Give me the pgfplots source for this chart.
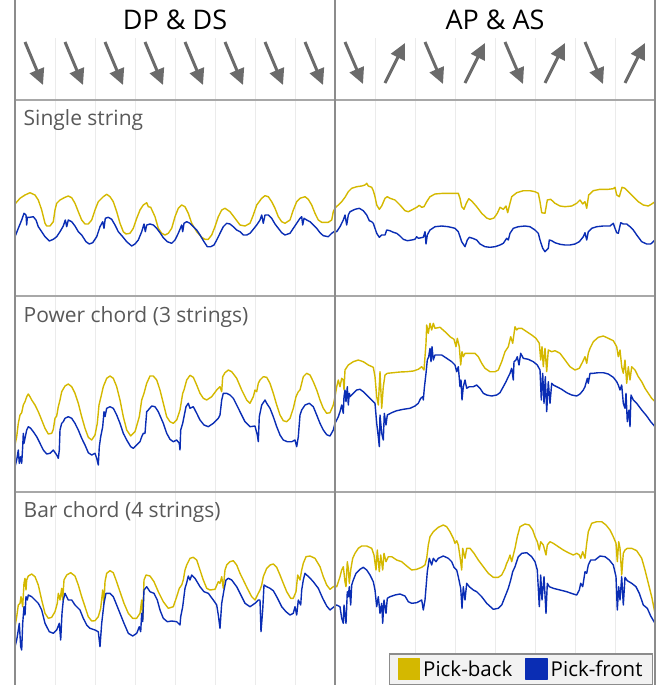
\documentclass[border=0pt]{standalone}
\usepackage{fontspec}
\setmainfont{Open Sans}
\usepackage{pgfplots}
\pgfplotsset{compat=1.18}
\usetikzlibrary{arrows.meta}

\definecolor{pickback}{HTML}{D4B800}
\definecolor{pickfront}{HTML}{0A2DB4}
\definecolor{arrowgray}{HTML}{6B6B6B}
\definecolor{framegray}{HTML}{8C8C8C}
\definecolor{sepgray}{HTML}{A8A8A8}
\definecolor{gridgray}{HTML}{EBEBEB}
\definecolor{labelgray}{HTML}{595959}
\definecolor{legendfill}{HTML}{F2F2F2}

\pgfplotsset{
  strip/.style={scale only axis, width=640pt, xmin=0, xmax=640, anchor=north west,
    axis line style={draw=none}, tick style={draw=none},
    xtick={40,80,120,160,200,240,280,360,400,440,480,520,560,600},
    xticklabels={}, ytick=\empty, xmajorgrids,
    major grid style={draw=gridgray, line width=0.9pt}},
  trace/.style={line width=1.4pt, line join=round, mark=none},
}
\tikzset{panellabel/.style={anchor=west, inner sep=0pt, text=labelgray,
    font=\fontsize{21}{25}\selectfont}}

\begin{document}
\begin{tikzpicture}
\path[use as bounding box] (0pt,0pt) rectangle (656pt,-685pt);

% header: stroke directions
\begin{axis}[strip, at={(15pt,-38pt)}, height=62pt, ymin=0, ymax=62, clip=false]
\addplot[arrowgray, line width=3pt, quiver={u=\thisrow{u},v=\thisrow{v}},
  -{Triangle[length=16pt,width=15pt]}] table[row sep=\\] {
x y u v\\
10 58 18 -43\\ 50 58 18 -43\\ 90 58 18 -43\\ 130 58 18 -43\\
170 58 18 -43\\ 210 58 18 -43\\ 250 58 18 -43\\ 290 58 18 -43\\
330 58 18 -42\\ 370 17 20 40\\ 410 58 18 -42\\ 450 17 20 40\\
490 58 18 -42\\ 530 17 20 40\\ 570 58 18 -42\\ 610 17 20 40\\
};
\node[font=\fontsize{27}{32}\selectfont] at (axis cs:160,80) {DP \& DS};
\node[font=\fontsize{27}{32}\selectfont] at (axis cs:480,80) {AP \& AS};
\end{axis}

% single string
\begin{axis}[strip, at={(15pt,-100pt)}, height=196pt, ymin=0, ymax=196]
\addplot[trace, pickback] coordinates {(0,92)(5,97.7)(10,101)(15,103.3)(20,101)(23.3,96)(26.7,86)(30,72.7)(31.7,70)(35,70)(38.3,74.3)(40,86)(41.7,92.7)(45,96)(50,98.7)(53.3,100)(56.7,98.3)(60,92.7)(63.3,84.3)(66.7,76)(70,72)(73.3,72)(76.7,76)(80,86)(83.3,94.3)(88.3,99.3)(91.7,101.7)(95,99.3)(98.3,94.3)(101.7,84.3)(105,72.7)(108.3,64.3)(111,62)(115,62.7)(118.3,67.7)(121.7,77.7)(125,86)(128.3,91)(131.7,93.3)(133.3,89.3)(135.7,88.7)(140,79.3)(143.3,67.7)(146.7,62.7)(150,61)(153.3,62.7)(156.7,67.7)(160,79.3)(163.3,87.7)(166.7,91)(170,89.3)(173.3,82.7)(176.7,72.7)(181.7,64.3)(186.7,58.7)(190,56.7)(193.3,56.7)(196.7,61)(200,69.3)(203.3,79.3)(206.7,86)(210,87.7)(215,84.3)(220,77.7)(225,71)(230,70)(235,72.7)(238.3,81)(241.7,91)(246.7,97.7)(250,100.3)(253.3,99.3)(256.7,94.3)(260,87.7)(263.3,79.3)(266.7,74.3)(270,72.7)(275,76)(278.3,86)(281.7,94.3)(285,97.7)(290,99.3)(293.3,96.7)(296.7,91)(300,82.7)(303.3,76)(306.7,73.7)(313.3,73.7)(316.7,76)(318.3,84.3)(320,88)
(323.3,91)(326.7,94.3)(330,98.7)(333.3,104.3)(336.7,107.7)(341.7,109.3)(346.7,110)(350,111)(351.7,112.7)(353.3,110)(356.7,108.7)(358.3,105.3)(360,99.3)(361.7,91)(364.3,86.7)(366.7,90)(370,97.7)(372.3,99.3)(375,97.7)(380,96)(385,91)(390,85.3)(393.3,84.3)(396.7,86)(401.7,88.7)(404.3,90.7)(406.7,88.7)(409,89.3)(411.7,94.3)(415,99.3)(420,102)(428.3,102.7)(436.7,102.7)(443.3,102.7)(445,97.7)(446.7,89.3)(449,86.7)(451,92)(453.7,97.3)(456.7,95)(461.7,89.3)(466.7,82.7)(471.7,78)(475,76.7)(479,78)(482.3,82.7)(485,88.7)(488.3,86.7)(491,90)(492.7,83.3)(494.3,90)(496.7,99.3)(501.7,103.3)(508.3,105.3)(515,105.3)(520,104.3)(523.3,102.7)(525,94.3)(526.7,83.3)(530,82.7)(532.3,96)(535.7,96.7)(540,92.7)(545,90)(550,89.3)(556.7,90)(561.7,92.7)(565,96)(567.7,92)(570,94.3)(571.7,87.7)(573.7,101)(578.3,105.3)(585,106.7)(593.3,106.7)(598.3,107.3)(600,108.7)(601.7,101)(604.3,99.3)(607,108.7)(610,107.7)(613.3,104.3)(618.3,99.3)(623.3,94.3)(628.3,91)(633.3,90)(636.7,92)(640,94.3)};
\addplot[trace, pickfront] coordinates {(0,59.3)(3.3,67.7)(6.7,76)(9,82.7)(11,81)(11.7,71)(12.3,78.7)(15,78.7)(18.3,79.3)(21,76)(23.3,69.3)(26.7,64.3)(30,59.3)(34.3,55)(38.3,56.7)(41.7,59.3)(45,64.3)(48.3,70)(50.3,76)(51.7,69.3)(53.3,76)(56.7,74.3)(60,70)(63.3,64.3)(66.7,61)(71,54.3)(74.3,52)(77.7,53.3)(81.7,59.3)(85,69.3)(87.7,74.3)(89,67.7)(90.3,77.7)(93.3,78.7)(96.7,76.7)(100,71)(103.3,64.3)(107.7,59.3)(111.7,54.3)(116.7,50)(120,52)(123.3,56)(126.7,64.3)(129,72)(130.3,64.3)(131.7,71)(135,72)(138.3,71)(141.7,67.7)(145,63.3)(148.3,58.3)(152.3,54.3)(156.7,52.7)(160,56)(163.3,62.7)(166.7,71)(167.7,64.3)(169,72.7)(171.7,74.3)(175,72.7)(178.3,69.3)(181.7,66)(185,61)(189,54.3)(192.3,49.3)(195.7,49.3)(199,51)(201.7,56)(205,62.7)(208.3,69.3)(211.7,72.7)(215,72)(218.3,69.3)(221.7,66)(225,64.3)(228.3,61)(231.7,61)(235,62.7)(238.3,66.7)(241.7,71)(245,76)(246.7,81)(248.3,72.7)(250,81)(253.3,81)(256.7,77.7)(260,72)(263.3,67.7)(266.7,63.3)(270,61)(275,62.7)(278.3,67.7)(281.7,72.7)(285,77.7)(286.7,79.3)(287.7,71)(289,77.7)(291.7,76)(295,74.3)(298.3,71)(301.7,67.7)(305,63.3)(308.3,60.3)(313.3,59.3)(316.7,62.7)(320,65)
(321.7,64.3)(325,69.3)(328.3,76)(330,81)(331.7,71)(333.3,81)(335,84.3)(340,86.7)(344.3,87.7)(348.3,85.3)(351.7,81)(354.3,75.3)(356.7,74.3)(358.3,72.7)(360,67.7)(361.7,62.7)(364.3,58.7)(366.7,61)(370,61)(371.7,66)(375,65.3)(378.3,63.7)(381.7,62.7)(385,60)(388.3,56.7)(392.3,55.3)(396.7,56)(400,56.7)(401.7,59.3)(403.3,57.7)(408.3,58.7)(410,64.3)(411,52)(412.3,61)(415,66)(420,69.3)(426.7,70)(433.3,69.3)(440,67.7)(443.3,64.3)(446.7,54.3)(450,49.3)(452.3,56)(454.3,58.7)(457.7,57.7)(461.7,56)(465,52)(470,49.3)(475,48.7)(480,49.3)(485,51)(488.3,52.7)(491.7,57.7)(493.3,56)(495,62.7)(498.3,67.7)(503.3,69.3)(510,70)(515,69.3)(520,66)(523.3,62.7)(525,56)(527.7,47.7)(530,44.3)(533.3,47.7)(534.3,56)(536.7,55.3)(540,53.3)(545,51.7)(550,51)(555,51)(560,52)(564.3,54.3)(568.3,59.3)(570,63.3)(571.7,56)(573.3,64.3)(576.7,67.7)(581.7,69.3)(588.3,70)(595,70)(598.3,72.7)(600,67.7)(601.7,63.3)(603.3,62.7)(605.7,73.3)(608.3,72)(611.7,72)(615,69.3)(618.3,66)(621.7,61)(626.7,54.3)(631.7,52)(635.7,52)(640,56)};
\node[panellabel] at (axis cs:8.5,176) {Single string};
\end{axis}

% power chord
\begin{axis}[strip, at={(15pt,-296pt)}, height=196pt, ymin=0, ymax=196]
\addplot[trace, pickback] coordinates {(0,47)(1.7,55.3)(3.3,68.7)(5,77)(6.7,79.3)(8.3,87)(10,90.3)(11.7,95.3)(13.3,98)(15,95.3)(16.7,92)(20,87)(23.3,80.3)(26.7,72)(30,63.7)(33.3,58)(36.7,58.7)(38.3,62.7)(40,73.7)(41.7,76)(43.3,85.3)(45,92)(46.7,100.3)(50,106)(53.3,108)(56.7,105.3)(60,98.7)(63.3,88.7)(66.7,75.3)(70,63.7)(73.3,54.7)(76.7,52)(80,57)(82.3,68.7)(84,87)(86,95.3)(88.3,105.3)(91.7,113.7)(95,116)(98.3,113.7)(101.7,105.3)(105,92)(108.3,75.3)(111.7,62)(115.7,56)(120,60.3)(124.3,75.3)(126.7,92)(129,98.7)(131.7,108.7)(135,116)(138.3,116)(141.7,112)(145,102)(148.3,88.7)(151.7,75.3)(155,70.3)(158.3,68.7)(161.7,72)(165,82)(167.7,98.7)(169,102)(171.7,112)(175,116.7)(178.3,114.7)(181.7,107)(185,98.7)(188.3,93.7)(191.7,92)(196.7,95.3)(201.7,102)(205,105.3)(206.7,100.3)(207.7,115.3)(210,119.3)(213.3,122)(216.7,120.3)(221.7,113.7)(226.7,102)(231.7,92)(235,88.7)(238.3,95.3)(240,102)(241.7,100.3)(243.3,108.7)(245,112)(248.3,115.3)(251.7,114.7)(255,108.7)(258.3,98.7)(261.7,87)(265,77)(268.3,71.3)(271.7,70.3)(275,73.7)(278.3,83.7)(281,95.3)(283.3,100.3)(285,102)(286.7,108.7)(288.3,115.3)(291.7,118.7)(295,117)(298.3,110.3)(301.7,102)(305,92)(308.3,83.7)(311.7,78.7)(315,79.3)(318.3,87)(320,95.3)
(321.7,105.3)(323.3,112)(325,105.3)(326.7,113.7)(328.3,112)(329,102)(330,122)(333.3,127)(338.3,130.3)(343.3,132)(348.3,130.3)(353.3,127)(358.3,124.7)(360,115.3)(361.7,95.3)(363.3,87)(365,120.3)(366.7,83.7)(368.3,105.3)(370,117)(372.3,118.7)(378.3,119.3)(385,120)(391.7,120.3)(398.3,121)(403.3,122.7)(406.7,125.3)(409,122)(410,135.3)(411,148.7)(411.7,167)(413.3,158.7)(415,168.7)(416.7,162)(418.3,168.7)(420,163.7)(425,164.7)(430,160.3)(435,155.3)(439,152.7)(441,145.3)(442.3,153.7)(444.3,145.3)(445.7,127)(447,140.3)(448.3,135.3)(450,138.7)(455,138.7)(460,138.7)(463.3,135.3)(466.7,128.7)(470,123.7)(475,120.3)(480,120.3)(483.3,122)(486.7,130.3)(490,140.3)(493.3,145.3)(495.7,155.3)(497.7,148.7)(500,165.3)(501.7,162)(503.3,163.7)(506.7,163.7)(511.7,160.3)(516.7,157)(521,153.7)(524.3,148.7)(525.7,132)(527,145.3)(528.3,125.3)(530,143.7)(531.7,120.3)(533.3,142)(536.7,140.3)(540,141.3)(545,138.7)(550,132)(555,125.3)(560,122)(564.3,123.7)(567.7,130.3)(570,135.3)(571.7,128.7)(573.3,138.7)(575,143.7)(578.3,150.3)(583.3,154.7)(588.3,156)(593.3,153.7)(598.3,151.3)(601.7,145.3)(603.3,135.3)(605,142)(606.7,125.3)(608.3,118.7)(610,132)(611.7,108.7)(613.3,125.3)(615,112)(616.7,125.3)(620,122)(623.3,115.3)(626.7,110.3)(630,103.7)(633.3,98.7)(636.7,93.7)(640,90.3)};
\addplot[trace, pickfront] coordinates {(0,25.3)(1.7,32)(3.3,42)(4.3,28.7)(5.7,35.3)(6.7,28.7)(7.7,45.3)(8.3,58.7)(9,48.7)(10,53.7)(11.7,62)(13.3,65.3)(15.7,63.7)(18.3,60.3)(21.7,55.3)(25,48.7)(28.3,42)(31.7,38)(35,38.7)(38.3,42)(41.7,37)(43.3,33.7)(44.3,42)(45,62)(46.7,68.7)(48.3,70.3)(50,73.7)(53.3,75.3)(56.7,73.7)(60,68.7)(63.3,62)(66.7,53.7)(70,47)(73.3,39.3)(76.7,37)(80,38.7)(81.7,33.7)(83.3,27)(84.3,45.3)(85.7,55.3)(87.7,65.3)(89,80.3)(90,75.3)(91.7,83.7)(95,85.3)(98.3,83.7)(101.7,77)(105,68.7)(108.3,58.7)(111.7,52)(115.7,45.3)(118.3,43.7)(121.7,47)(125,50.3)(126.7,55.3)(128.3,58.7)(130,58.7)(131.7,80.3)(133.3,82)(136.7,86)(140,85.3)(143.3,80.3)(148.3,68.7)(151.7,58.7)(155,52.7)(158.3,50.3)(161.7,52)(164.3,48.7)(165,42)(165.7,62)(167.7,68.7)(169,75.3)(171,85.3)(173.3,88.7)(175,83.7)(178.3,85.3)(181.7,78.7)(185,72)(189,67)(193.3,65.3)(198.3,68.7)(203.3,73.7)(205,77)(206.7,92)(208.3,98.7)(211.7,98.7)(215,97)(218.3,93.7)(221.7,87)(225,80.3)(230,70.3)(235,65.3)(240,66)(242.3,57)(243.3,50.3)(244.3,75.3)(246.7,87)(250,92)(251.7,88.7)(255,83.7)(258.3,75.3)(261.7,65.3)(265,57)(268.3,52)(272.3,50.3)(276.7,50.3)(280,52)(281.7,45.3)(283.3,55.3)(285,77)(286.7,82)(290,87)(294.3,88.7)(298.3,85.3)(301.7,77)(305,68.7)(308.3,62)(311.7,57.3)(315,56)(318.3,62)(320,68.7)
(321.7,72)(323.3,75.3)(325,80.3)(326.7,87)(328.3,78.7)(329,95.3)(330,102)(331,90.3)(332.3,105.3)(333.3,87)(334.3,98.7)(335,95.3)(336.7,97)(338.3,98.7)(341.7,102)(345,102.7)(348.3,100.3)(353.3,95.3)(358.3,90.3)(360,88.7)(361.7,68.7)(363.3,55.3)(364.3,45.3)(365,77)(366.7,58.7)(368.3,52)(369.3,78.7)(371,67)(372.3,77)(376.7,79.3)(381.7,81.3)(388.3,82.7)(395,83.7)(400,86)(403.3,88.7)(405.7,93.7)(407.7,95.3)(408.3,92)(409.3,103.7)(411,118.7)(412.3,132)(413.7,135.3)(415,143.7)(416,130.3)(417,145.3)(418.3,132)(420,137)(423.3,137)(426.7,137)(431.7,133.7)(436.7,130.3)(440,127)(441.7,120.3)(443.3,125.3)(445,105.3)(446,112)(447,92)(448.3,105.3)(450,112)(451.7,103.7)(454.3,105.3)(458.3,105.3)(461.7,107)(465,103.7)(468.3,98.7)(471.7,97)(476.7,96)(481.7,97)(485,99.3)(488.3,105.3)(491,110.3)(493.3,115.3)(495,118.7)(496.7,123.7)(498.3,112)(499,130.3)(501,132)(502.3,135.3)(504,127)(505.7,138.7)(508.3,133.7)(513.3,132.7)(518.3,130.3)(522.3,127)(525,122)(526.3,92)(527.7,118.7)(529,88.7)(530.3,115.3)(531.7,80.3)(533.3,110.3)(535,88.7)(536.7,108.7)(538.3,107)(541.7,105.3)(546.7,102.7)(551.7,99.3)(556.7,97)(561.7,96)(565,98)(568.3,102)(570,105.3)(572.3,113.7)(573.3,108.7)(575,118.7)(578.3,118.7)(583.3,119.3)(588.3,119.3)(593.3,118)(598.3,114.7)(601.7,110.3)(603.3,107)(605,102)(606.7,107)(608.3,88.7)(610,83.7)(611,98.7)(612.3,70.3)(614,82)(615,65.3)(616,97)(618.3,92)(621.7,88.7)(626.7,82)(631.7,76)(635.7,70.3)(640,65.3)};
\node[panellabel] at (axis cs:8.5,175) {Power chord (3 strings)};
\end{axis}

% bar chord
\begin{axis}[strip, at={(15pt,-492pt)}, height=193pt, ymin=0, ymax=193,
  legend columns=2,
  legend style={at={(0.997,0)}, anchor=south east, draw=framegray, fill=legendfill,
    line width=1.2pt, font=\fontsize{20.5}{24}\selectfont, inner xsep=8pt, inner ysep=4pt,
    nodes={inner xsep=2pt, inner ysep=1pt},
    /tikz/every odd column/.append style={column sep=1pt},
    /tikz/every even column/.append style={column sep=11pt}},
  legend image code/.code={\fill[#1] (0pt,-10.5pt) rectangle (21pt,10.5pt);}]
\addplot[trace, pickback] coordinates {(0,58.3)(1.7,68.3)(3.3,80)(5,81.7)(6,88.3)(7.7,78.3)(9,101.7)(10,106.7)(11,95)(11.7,105)(13.3,109)(16.7,111)(20,108.3)(23.3,100)(26.7,85)(30,71.7)(33.3,66.7)(36.7,67.7)(40,73.3)(42.3,81.7)(43.3,91.7)(45,85)(46.7,96.7)(47.7,85)(49,105)(51.7,110)(55.7,112.3)(60,109)(63.3,100)(66.7,88.3)(70,78.3)(73.3,68.3)(76.7,64)(80,64.3)(83.3,68.3)(85.7,76.7)(87.7,95)(89,81.7)(90,103.3)(91.7,111.7)(95,114.3)(98.3,112.3)(101,105)(105,93.3)(109,81.7)(113.3,71.7)(117.7,66.7)(121.7,66.7)(125,71.7)(126.7,85)(127.7,65)(129,105)(131,110)(135,109)(139,103.3)(143.3,93.3)(148.3,83.3)(153.3,76.7)(158.3,78.3)(161.7,88.3)(164.3,96.7)(166.7,100)(168.3,105)(170,115)(171.7,120)(175,126.7)(178.3,127.7)(181.7,125)(185,115)(188.3,105)(191.7,96.7)(195,95)(200,95.7)(203.3,103.3)(205,101.7)(206.7,108.3)(208.3,96.7)(210,115)(211.7,120)(215,123.3)(218.3,124.3)(221.7,120)(225,111.7)(228.3,105)(232.3,96.7)(236.7,88.3)(240,85)(243.3,91.7)(245,95)(246.7,100)(248.3,108.3)(251.7,116.7)(255,120)(258.3,121)(261.7,117.7)(265,110)(268.3,101.7)(271.7,93.3)(275.7,86.7)(278.3,86.7)(281,93.3)(282.7,110)(285,105)(286.7,115)(288.3,121.7)(291,128.3)(295,129)(300,126.7)(305,118.3)(308.3,108.3)(311.7,100)(315,95.7)(318.3,98.3)(320,99)
(321.7,98.3)(325,108.3)(326.7,115)(328.3,118.3)(330,103.3)(331,98.3)(332.3,123.3)(333.3,116.7)(334.3,101.7)(335.7,115)(337.7,126.7)(340,131.7)(343.3,136.7)(346.7,139)(351.7,139)(356.7,136.7)(359,130)(361,115)(362.3,135)(364.3,113.3)(365.7,130)(367.7,115)(369,131.7)(371,123.3)(373.3,128.3)(376.7,128.3)(381.7,125)(386.7,123.3)(391.7,119)(396.7,115)(401.7,115.7)(406.7,117.7)(410,120)(411.7,126.7)(413.3,140)(415,148.3)(418.3,153.3)(423.3,157.7)(428.3,160)(431.7,158.3)(435,153.3)(438.3,146.7)(440,141.7)(441.7,144.3)(443.3,140)(445,128.3)(446.7,115)(447.7,136.7)(450,126.7)(451.7,136.7)(455,136.7)(459,131.7)(463.3,125)(468.3,118.3)(473.3,111.7)(478.3,107.7)(483.3,107.7)(486.7,110)(490,116.7)(491.7,121.7)(493.3,125)(495,130)(496.7,123.3)(498.3,130)(500,136.7)(502.3,148.3)(505,158.3)(510,161)(514.3,160)(517.7,155)(520,148.3)(522.3,143.3)(524.3,135)(525.7,143.3)(528.3,140)(531,130)(532.3,140)(535,143.3)(538.3,141.7)(543.3,138.3)(548.3,135)(553.3,132.3)(558.3,130)(561.7,131.7)(564.3,130)(565.7,126.7)(567.7,133.3)(570,126.7)(571.7,141.7)(573.3,153.3)(576.7,161.7)(581.7,163.3)(586.7,163.3)(591,160)(595,155)(598.3,148.3)(601,141.7)(602.3,123.3)(603.7,143.3)(605,136.7)(606.7,110)(608.3,131.7)(610,135)(612.3,136.7)(616.7,136.7)(621.7,134.3)(626.7,126.7)(630,115)(633.3,101.7)(636.7,88.3)(640,71.7)};
\addlegendentry{Pick-back}
\addplot[trace, pickfront] coordinates {(0,38.3)(1.7,45)(3.3,55)(4.3,61.7)(5.7,38.3)(6.7,35)(7.7,61.7)(9,78.3)(10,70)(11,88.3)(12.3,85)(13.3,90)(16.7,88.3)(20,85)(23.3,81.7)(26.7,75)(30,61.7)(34.3,53.3)(38.3,51.7)(41.7,55)(44.3,61.7)(45.7,45)(47,71.7)(48.3,85)(50,91.7)(53.3,85)(56.7,85)(60,80)(65,75)(68.3,66.7)(71.7,60)(75,56.7)(80,55)(83.3,53.3)(85,38.3)(86.7,61.7)(89,81.7)(91,91.7)(95,91.7)(98.3,88.3)(101.7,80)(105,71.7)(109,61.7)(113.3,51.7)(117.7,49)(121.7,51.7)(124.3,58.3)(125.7,53.3)(126.7,71.7)(127.7,63.3)(129,95)(131.7,98.3)(135,93.3)(139,91.7)(142.3,85)(145,75)(148.3,66.7)(152.3,63.3)(156.7,64)(161.7,63.3)(165,60)(165.7,68.3)(167.7,78.3)(170,96.7)(171.7,102.3)(173.3,109)(175,105)(176.7,110)(180,106.7)(185,98.3)(189,93.3)(193.3,91.7)(198.3,85)(201.7,80)(203.3,70)(205,56.7)(206.7,81.7)(209,95)(211,105)(213.3,106.7)(216.7,105)(221.7,98.3)(225,91.7)(230,81.7)(235,78.3)(240,81.7)(243.3,85)(245,85)(246,53.3)(247.7,75)(249,100)(251.7,98.3)(255,96.7)(258.3,94.3)(261.7,88.3)(266.7,78.3)(271,73.3)(275,70)(278.3,71.7)(280,78.3)(281.7,70)(283.3,85)(285.7,80)(286.7,95)(288.3,105)(290,111.7)(291.7,110)(294.3,107.7)(298.3,103.3)(303.3,96.7)(307.7,86.7)(311.7,79)(315,75)(318.3,77.7)(320,79)
(321.7,80)(325,78.3)(326.7,66.7)(328.3,61.7)(329,80)(330,70)(331,61.7)(332.3,93.3)(333.3,88.3)(334.3,98.3)(335.7,80)(336.7,100)(338.3,105)(341,111.7)(345,115.7)(348.3,117.7)(351.7,115)(355,110)(358.3,103.3)(360,95)(361.7,78.3)(363.3,88.3)(365,71.7)(366.7,81.7)(367.7,61.7)(369,85)(371,71.7)(372.3,86.7)(375,88.3)(380,90)(385,91)(390,89)(393.3,83.3)(396.7,81.7)(401.7,82.3)(406.7,85)(408.3,75)(410,85)(412.3,113.3)(414.3,126.7)(416.7,120)(418.3,126.7)(421,123.3)(423.3,126.7)(428.3,129)(433.3,126.7)(436.7,123.3)(439,117.7)(441.7,115)(443.3,108.3)(445.7,96.7)(447,76.7)(448.3,98.3)(450,85)(451.7,101.7)(454.3,98.3)(458.3,95)(461.7,93.3)(466.7,88.3)(471.7,81.7)(478.3,75.7)(483.3,76.7)(486.7,80)(490,88.3)(493.3,96.7)(495.7,105)(497.7,113.3)(500,118.3)(503.3,128.3)(506.7,131.7)(511.7,132.3)(516.7,128.3)(520,123.3)(522.3,115)(524.3,78.3)(525.7,110)(527,85)(529,108.3)(531,71.7)(532.3,101.7)(534.3,98.3)(538.3,96.7)(545,95)(551.7,93.3)(558.3,91)(561.7,90)(564.3,95)(565.7,101.7)(567.7,98.3)(570,113.3)(571.7,111.7)(573.3,120)(575.7,125)(580,125)(585,129)(590,128.3)(594.3,125)(598.3,120)(601,108.3)(602.3,75)(603.7,98.3)(605,85)(606.7,108.3)(608.3,80)(610,107.7)(612.3,104.3)(616.7,101.7)(621,98.3)(624.3,91.7)(628.3,80)(632.3,76.7)(635.7,69)(640,61.7)};
\addlegendentry{Pick-front}
\node[panellabel] at (axis cs:8.5,173) {Bar chord (4 strings)};
\end{axis}

% frame, centre divider and panel separators
\draw[sepgray, line width=1.8pt] (15pt,-100pt) -- (655pt,-100pt);
\draw[sepgray, line width=1.8pt] (15pt,-296pt) -- (655pt,-296pt);
\draw[sepgray, line width=1.8pt] (15pt,-492pt) -- (655pt,-492pt);
\draw[framegray, line width=1.2pt] (335pt,0pt) -- (335pt,-685pt);
\draw[framegray, line width=1.6pt] (15pt,0pt) -- (15pt,-685pt);
\draw[framegray, line width=1.6pt] (655pt,0pt) -- (655pt,-685pt);
\end{tikzpicture}
\end{document}
